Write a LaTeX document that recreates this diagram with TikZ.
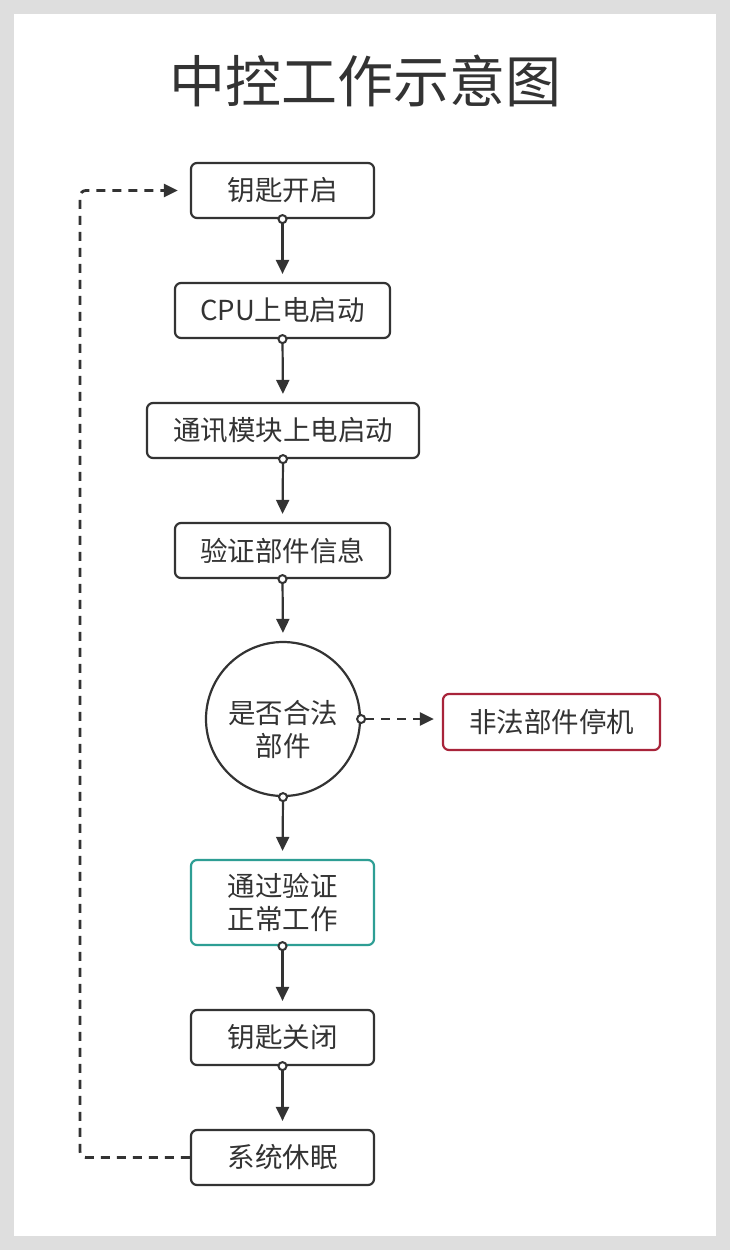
\documentclass[tikz,border=0pt]{standalone}
\usepackage{fontspec}
\setmainfont{Noto Sans CJK SC}
\usepackage{xcolor}
\usetikzlibrary{arrows.meta}
\usetikzlibrary{positioning}
\definecolor{inkgray}{HTML}{333333}
\definecolor{framegray}{HTML}{DEDEDE}
\definecolor{haltred}{HTML}{A8243A}
\definecolor{passteal}{HTML}{2E9E94}

\begin{document}
\begin{tikzpicture}[x=1pt, y=-1pt,
        box/.style={draw=inkgray, line width=2.2pt, rounded corners=6pt,
            minimum height=55pt, inner sep=0pt, text=inkgray,
            align=center, font=\fontsize{27.5}{33}\selectfont},
        flow/.style={draw=inkgray, line width=2.2pt,
            {Circle[open, fill=white, length=10pt, width=10pt, line width=2pt]}-{Triangle[length=14pt, width=13pt]},
            shorten <=-5pt, shorten >=8pt},
        loopline/.style={draw=inkgray, line width=2.8pt, dash pattern=on 9pt off 7pt,
            -{Triangle[length=14pt, width=13pt]}, shorten >=12pt}]
                % frame
                \fill[framegray] (0, 0) rectangle (730, 1250);
                \fill[white] (14, 14) rectangle (716, 1236);

                \node[text=inkgray, font=\fontsize{56}{62}\selectfont] (title) at (365, 81) {中控工作示意图};

                \node[box, minimum width=183pt] (keyon) at (282.5, 190.5) {钥匙开启};
                \node[box, minimum width=215pt] (cpu) at (282.5, 310.5) {CPU上电启动};
                \node[box, minimum width=272pt] (comm) at (283, 430.5) {通讯模块上电启动};
                \node[box, minimum width=215pt] (verify) at (282.5, 550.5) {验证部件信息};
                \node[box, circle, rounded corners=0pt, minimum size=154pt,
                    label={[text=inkgray, align=center, font=\fontsize{27.5}{33}\selectfont, yshift=-10pt]center:是否合法\\部件}] (legal) at (283, 719) {};
                \node[box, draw=haltred, minimum width=217pt, minimum height=56pt] (halt) at (551.5, 722) {非法部件停机};
                \node[box, draw=passteal, minimum width=183pt, minimum height=85pt] (pass) at (282.5, 902.5) {通过验证\\正常工作};
                \node[box, minimum width=183pt] (keyoff) at (282.5, 1037.5) {钥匙关闭};
                \node[box, minimum width=183pt] (sleep) at (282.5, 1157.5) {系统休眠};

                \draw[flow] (keyon.south) -- (cpu.north);
                \draw[flow] (cpu.south) -- (comm.north);
                \draw[flow] (comm.south) -- (verify.north);
                \draw[flow] (verify.south) -- (legal.north);
                \draw[flow] (legal.south) -- (pass.north);
                \draw[flow] (pass.south) -- (keyoff.north);
                \draw[flow] (keyoff.south) -- (sleep.north);
                \draw[flow, dash pattern=on 9pt off 7pt, line width=2.6pt] (legal.east) -- (legal.east -| halt.west);

                % loop back
                \coordinate (loopx) at (80, 680);
                \draw[loopline, rounded corners=6pt] (sleep.west) -| (loopx) |- (keyon.west);
            \end{tikzpicture}
\end{document}
